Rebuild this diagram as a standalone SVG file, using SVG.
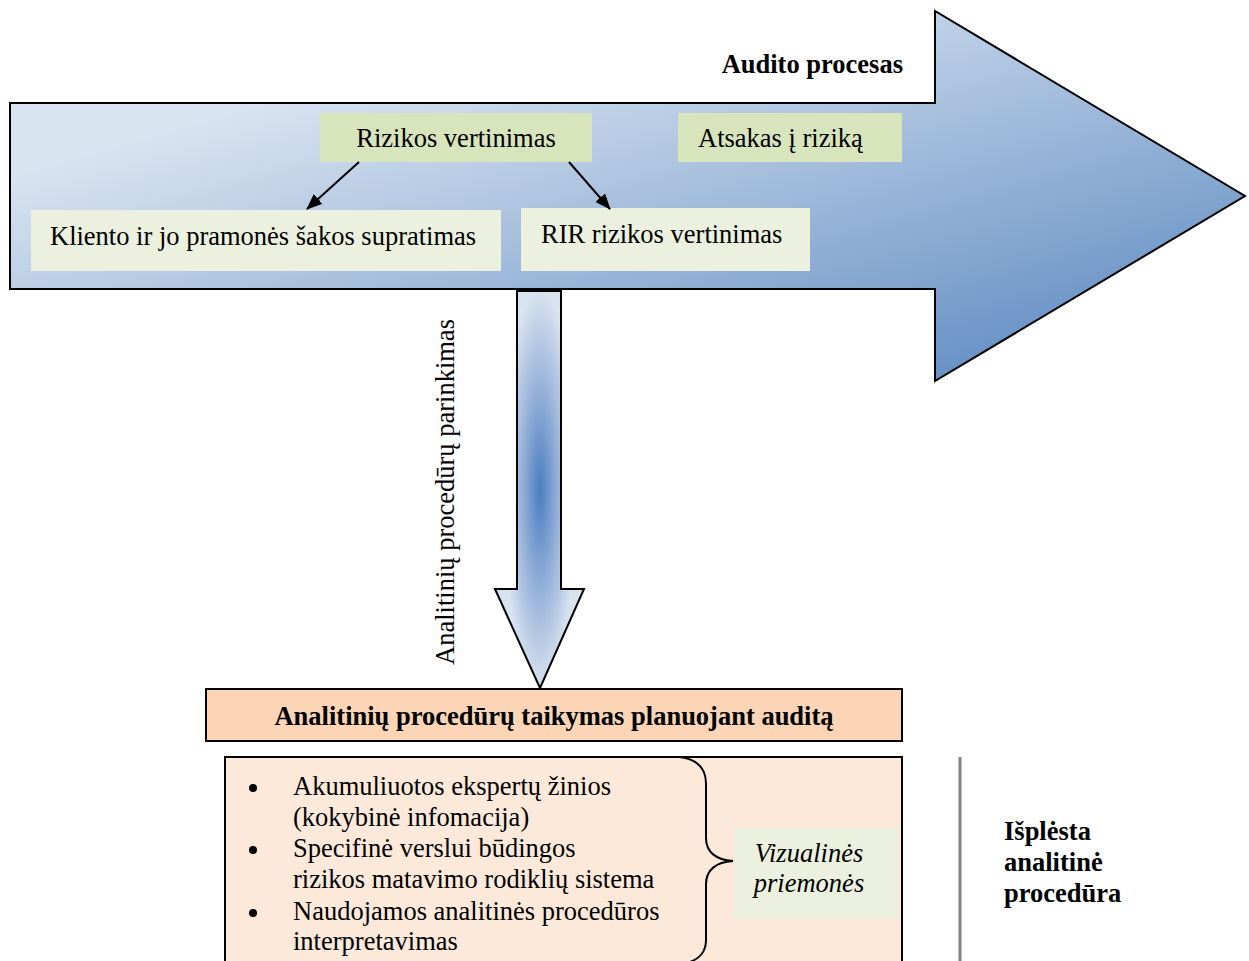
<svg xmlns="http://www.w3.org/2000/svg" width="1249" height="961" viewBox="0 0 1249 961">
<style>
text{font-family:"Liberation Serif","Times New Roman",serif;font-size:26.5px;fill:#000}
.b{font-weight:bold}
.i{font-style:italic}
.dark{fill:#d8e4bc}
.light{fill:#ebf1de}
.conn{stroke:#000;stroke-width:2;fill:none}
</style>
<defs>
<linearGradient id="gBig" gradientUnits="userSpaceOnUse" x1="100" y1="150" x2="240" y2="640">
<stop offset="0" stop-color="#d8e3f0"/>
<stop offset="1" stop-color="#5a87c0"/>
</linearGradient>
<radialGradient id="gDown" gradientUnits="userSpaceOnUse" cx="540" cy="490" r="200" gradientTransform="translate(540 490) scale(0.18 1) translate(-540 -490)">
<stop offset="0" stop-color="#4a7ec0"/>
<stop offset="0.5" stop-color="#95b0d8"/>
<stop offset="1" stop-color="#d8e3f0"/>
</radialGradient>
<marker id="ah" markerWidth="16" markerHeight="13" refX="15" refY="6.5" orient="auto" markerUnits="userSpaceOnUse">
<path d="M0,0 L16,6.5 L0,13 z" fill="#000"/>
</marker>
</defs>

<g id="big-arrow">
<path d="M10,103 L935,103 L935,11 L1245,196 L935,381 L935,289 L10,289 Z" fill="url(#gBig)" stroke="#000" stroke-width="2"/>
<text class="b" x="903" y="73" text-anchor="end">Audito procesas</text>
</g>

<g id="rizikos-vertinimas">
<rect class="dark" x="320" y="113" width="272" height="49"/>
<text x="456" y="147" text-anchor="middle">Rizikos vertinimas</text>
</g>

<g id="atsakas">
<rect class="dark" x="678" y="113" width="224" height="49"/>
<text x="698" y="147">Atsakas į riziką</text>
</g>

<g id="kliento">
<rect class="light" x="31" y="210" width="470" height="61"/>
<text x="50" y="245">Kliento ir jo pramonės šakos supratimas</text>
</g>

<g id="rir">
<rect class="light" x="521" y="208" width="289" height="63"/>
<text x="541" y="243">RIR rizikos vertinimas</text>
</g>

<g id="connectors">
<line class="conn" x1="359" y1="162" x2="307" y2="209" marker-end="url(#ah)"/>
<line class="conn" x1="569" y1="162" x2="610" y2="209" marker-end="url(#ah)"/>
</g>

<g id="down-arrow">
<path d="M517,291 L561,291 L561,589 L584,589 L540,688 L495,589 L517,589 Z" fill="url(#gDown)" stroke="#000" stroke-width="2"/>
<text transform="translate(454 492) rotate(-90)" text-anchor="middle">Analitinių procedūrų parinkimas</text>
</g>

<g id="taikymas">
<rect x="206" y="689" width="696" height="52" fill="#fbd5b5" stroke="#000" stroke-width="2"/>
<text class="b" x="554" y="725" text-anchor="middle">Analitinių procedūrų taikymas planuojant auditą</text>
</g>

<g id="list-box">
<rect x="225" y="757" width="677" height="220" fill="#fde9d9" stroke="#000" stroke-width="2"/>
<circle cx="253" cy="788" r="4"/>
<circle cx="253" cy="850" r="4"/>
<circle cx="253" cy="913" r="4"/>
<text x="293" y="795">Akumuliuotos ekspertų žinios</text>
<text x="293" y="826">(kokybinė infomacija)</text>
<text x="293" y="857">Specifinė verslui būdingos</text>
<text x="293" y="888">rizikos matavimo rodiklių sistema</text>
<text x="293" y="920">Naudojamos analitinės procedūros</text>
<text x="293" y="950">interpretavimas</text>
<path class="conn" d="M679,757 C697,759 706,768 706,784 L706,838 C706,852 716,860 733,861 C716,862 706,870 706,884 L706,940 C706,952 700,958 690,962"/>
</g>

<g id="vizualines">
<rect class="light" x="734" y="828" width="164" height="90"/>
<text class="i" x="809" y="862" text-anchor="middle">Vizualinės</text>
<text class="i" x="809" y="892" text-anchor="middle">priemonės</text>
</g>

<g id="isplesta">
<line x1="960" y1="757" x2="960" y2="961" stroke="#808080" stroke-width="3"/>
<text class="b" x="1004" y="840">Išplėsta</text>
<text class="b" x="1004" y="871">analitinė</text>
<text class="b" x="1004" y="902">procedūra</text>
</g>
</svg>
